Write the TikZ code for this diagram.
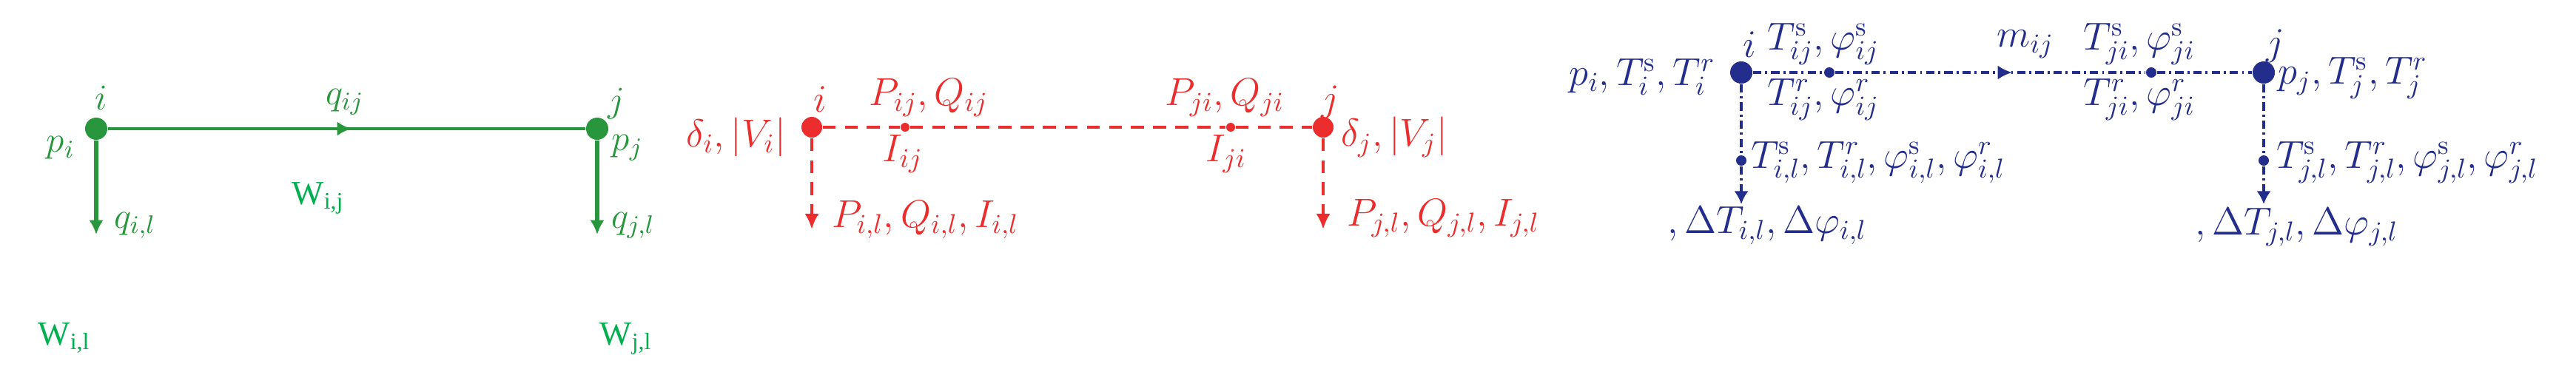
\RequirePackage{fix-cm}
\documentclass[tikz,border=0pt]{standalone}
\usepackage{fontspec}
\newfontfamily\wfont{Liberation Serif}
\usepackage{tikz}
\usetikzlibrary{positioning,arrows.meta,decorations.markings}
\definecolor{grn}{RGB}{40,150,60}
\definecolor{wgrn}{RGB}{0,176,80}
\definecolor{rd}{RGB}{235,45,45}
\definecolor{blu}{RGB}{35,45,140}

\begin{document}
\begin{tikzpicture}[
    bus/.style={circle,fill,inner sep=0pt,minimum size=#1},
    gtxt/.style={text=grn,font=\fontsize{14}{16}\selectfont,inner sep=1pt},
    rtxt/.style={text=rd,font=\fontsize{15}{17}\selectfont,inner sep=1pt},
    btxt/.style={text=blu,font=\fontsize{15}{17}\selectfont,inner sep=1pt},
    wtxt/.style={text=wgrn,font=\wfont\fontsize{13}{15}\selectfont,inner sep=1pt},
    rdash/.style={rd,line width=1.4pt,dash pattern=on 5pt off 3.5pt},
    bdash/.style={blu,line width=1.4pt,dash pattern=on 3.2pt off 1.5pt on 0.8pt off 1.5pt},
    tip/.style={-{Latex[length=#1,width=5.5pt]}},
    midarrow/.style={postaction={decorate},decoration={markings,mark=at position #1 with {\arrow{Latex[length=5.5pt,width=5.5pt]}}}}
  ]
    \useasboundingbox (0,0) rectangle (34.81,5.10);

    % green: pipe network
    \node[bus=0.30cm,grn] (gi) at (1.30,3.36) {};
    \node[bus=0.30cm,grn] (gj) at (8.07,3.36) {};
    \coordinate (gil) at (1.30,1.93);
    \coordinate (gjl) at (8.07,1.93);
    \draw[grn,line width=1.2pt,midarrow=0.51] (gi) -- (gj);
    \draw[grn,line width=1.5pt,tip=5.5pt] (gi) -- (gil);
    \draw[grn,line width=1.5pt,tip=5.5pt] (gj) -- (gjl);
    \node[gtxt] (gilab) at (1.37,3.78) {$i$};
    \node[gtxt] (gjlab) at (8.33,3.70) {$j$};
    \node[gtxt] (gqij) at (4.66,3.72) {$q_{ij}$};
    \node[gtxt] (gpi) at (0.82,3.10) {$p_i$};
    \node[gtxt] (gpj) at (8.48,3.10) {$p_j$};
    \node[gtxt,anchor=west] (gqil) at (1.50,2.05) {$q_{i,l}$};
    \node[gtxt,anchor=west] (gqjl) at (8.22,2.05) {$q_{j,l}$};
    \node[wtxt] (wij) at (4.30,2.42) {W\textsubscript{i,j}};
    \node[wtxt] (wil) at (0.87,0.53) {W\textsubscript{i,l}};
    \node[wtxt] (wjl) at (8.46,0.52) {W\textsubscript{j,l}};

    % red: power network
    \node[bus=0.28cm,rd] (ri) at (10.97,3.38) {};
    \node[bus=0.28cm,rd] (rj) at (17.88,3.38) {};
    \node[bus=0.12cm,rd] (rIij) at (12.23,3.38) {};
    \node[bus=0.12cm,rd] (rIji) at (16.63,3.38) {};
    \coordinate (ril) at (10.97,2.00);
    \coordinate (rjl) at (17.88,2.00);
    \draw[rdash] (ri) -- (rIij);
    \draw[rdash] (rIij) -- (rIji);
    \draw[rdash] (rIji) -- (rj);
    \draw[rdash,tip=6pt] (ri) -- (ril);
    \draw[rdash,tip=6pt] (rj) -- (rjl);
    \node[rtxt] (rilab) at (11.08,3.76) {$i$};
    \node[rtxt] (rjlab) at (17.98,3.72) {$j$};
    \node[rtxt] (rPij) at (12.55,3.78) {$P_{ij}, Q_{ij}$};
    \node[rtxt] (rPji) at (16.55,3.78) {$P_{ji}, Q_{ji}$};
    \node[rtxt,anchor=east] (rdi) at (10.66,3.25) {$\delta_i, |V_i|$};
    \node[rtxt,anchor=west] (rdj) at (18.08,3.25) {$\delta_j, |V_j|$};
    \node[rtxt] (rIijlab) at (12.20,3.02) {$I_{ij}$};
    \node[rtxt] (rIjilab) at (16.57,3.02) {$I_{ji}$};
    \node[rtxt,anchor=west] (rPil) at (11.20,2.13) {$P_{i,l}, Q_{i,l}, I_{i,l}$};
    \node[rtxt,anchor=west] (rPjl) at (18.16,2.15) {$P_{j,l}, Q_{j,l}, I_{j,l}$};

    % blue: heat network
    \node[bus=0.30cm,blu] (bi) at (23.53,4.12) {};
    \node[bus=0.30cm,blu] (bj) at (30.59,4.12) {};
    \node[bus=0.14cm,blu] (bsij) at (24.72,4.12) {};
    \node[bus=0.14cm,blu] (bsji) at (29.07,4.12) {};
    \node[bus=0.14cm,blu] (bil) at (23.53,2.93) {};
    \node[bus=0.14cm,blu] (bjl) at (30.59,2.93) {};
    \coordinate (bilt) at (23.53,2.34);
    \coordinate (bjlt) at (30.59,2.34);
    \draw[bdash] (bi) -- (bsij);
    \draw[bdash,midarrow=0.57] (bsij) -- (bsji);
    \draw[bdash] (bsji) -- (bj);
    \draw[bdash] (bi) -- (bil);
    \draw[bdash] (bj) -- (bjl);
    \draw[bdash,tip=5pt] (bil) -- (bilt);
    \draw[bdash,tip=5pt] (bjl) -- (bjlt);
    \node[btxt,anchor=east] (bpi) at (23.22,4.06) {$p_i, T_i^{\mathrm{s}}, T_i^r$};
    \node[btxt] (bilab) at (23.64,4.50) {$i$};
    \node[btxt] (bjlab) at (30.75,4.48) {$j$};
    \node[btxt] (bTsij) at (24.64,4.50) {$T_{ij}^{\mathrm{s}}, \varphi_{ij}^{\mathrm{s}}$};
    \node[btxt] (bTrij) at (24.64,3.75) {$T_{ij}^r, \varphi_{ij}^r$};
    \node[btxt] (bmij) at (27.37,4.50) {$m_{ij}$};
    \node[btxt] (bTsji) at (28.91,4.50) {$T_{ji}^{\mathrm{s}}, \varphi_{ji}^{\mathrm{s}}$};
    \node[btxt] (bTrji) at (28.91,3.75) {$T_{ji}^r, \varphi_{ji}^r$};
    \node[btxt,anchor=west] (bpj) at (30.74,4.04) {$p_j, T_j^{\mathrm{s}}, T_j^r$};
    \node[btxt,anchor=west] (bTil) at (23.62,2.90) {$T_{i,l}^{\mathrm{s}}, T_{i,l}^r, \varphi_{i,l}^{\mathrm{s}}, \varphi_{i,l}^r$};
    \node[btxt,anchor=west] (bTjl) at (30.72,2.90) {$T_{j,l}^{\mathrm{s}}, T_{j,l}^r, \varphi_{j,l}^{\mathrm{s}}, \varphi_{j,l}^r$};
    \node[btxt,anchor=west] (bDil) at (22.49,2.05) {$, \Delta T_{i,l}, \Delta\varphi_{i,l}$};
    \node[btxt,anchor=west] (bDjl) at (29.62,2.03) {$, \Delta T_{j,l}, \Delta\varphi_{j,l}$};
\end{tikzpicture}
\end{document}
